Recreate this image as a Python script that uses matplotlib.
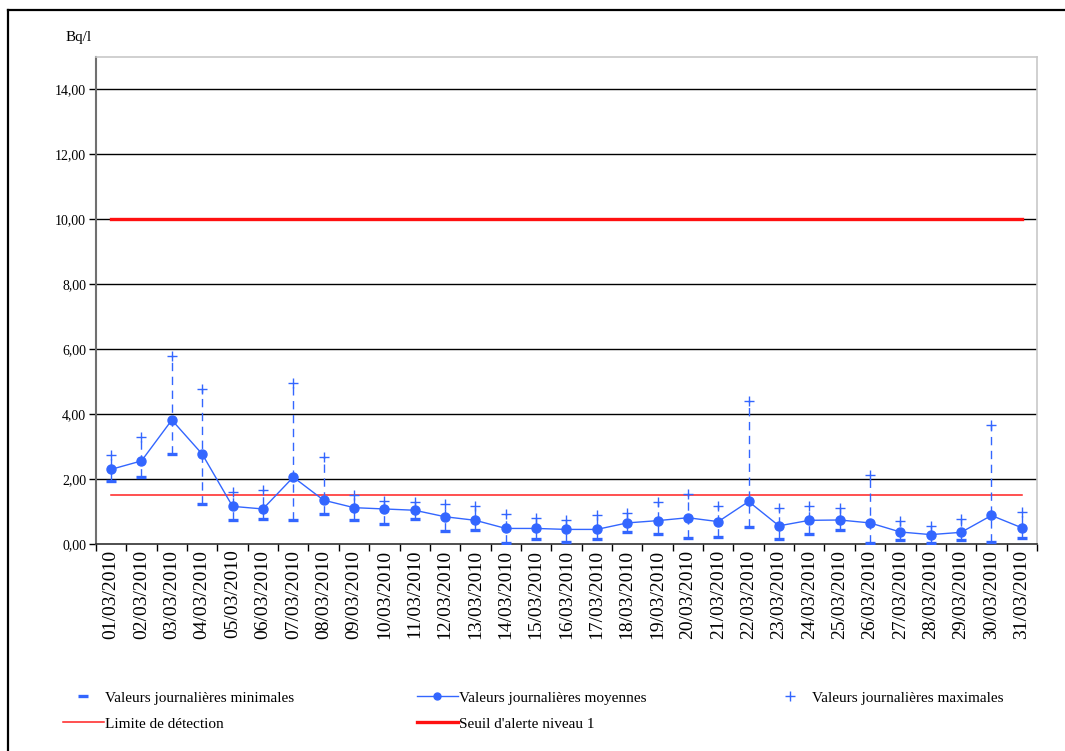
import matplotlib.pyplot as plt
from matplotlib.lines import Line2D
import numpy as np

plt.rcParams['font.family'] = ['Liberation Serif', 'DejaVu Serif']

# Données journalières (Bq/l) - mars 2010
jours = ['%02d/03/2010' % j for j in range(1, 32)]

val_min = [1.95, 2.06, 2.77, 1.24, 0.73, 0.77, 0.73, 0.92, 0.73, 0.62,
           0.76, 0.41, 0.42, 0.04, 0.14, 0.07, 0.14, 0.37, 0.30, 0.18,
           0.23, 0.51, 0.14, 0.30, 0.43, 0.02, 0.11, 0.03, 0.11, 0.05, 0.19]
val_moy = [2.30, 2.56, 3.82, 2.77, 1.16, 1.08, 2.06, 1.35, 1.12, 1.08,
           1.04, 0.84, 0.73, 0.48, 0.48, 0.45, 0.45, 0.65, 0.72, 0.81,
           0.69, 1.31, 0.56, 0.73, 0.74, 0.65, 0.37, 0.29, 0.36, 0.88, 0.50]
val_max = [2.74, 3.30, 5.78, 4.78, 1.61, 1.65, 4.97, 2.69, 1.52, 1.33,
           1.29, 1.24, 1.18, 0.92, 0.80, 0.75, 0.88, 0.95, 1.29, 1.54,
           1.17, 4.39, 1.11, 1.18, 1.10, 2.13, 0.72, 0.55, 0.76, 3.68, 0.98]

limite_detection = 1.5
seuil_alerte = 10.0

bleu = '#3366ff'
x = np.arange(len(jours))

fig = plt.figure(figsize=(10.65, 7.51), dpi=100)
ax = fig.add_axes([0.0901, 0.2756, 0.8836, 0.6485])

# grille horizontale
for y in range(2, 15, 2):
    ax.axhline(y, color='black', lw=1, zorder=1)

# seuils
ax.plot([x[0], x[-1]], [seuil_alerte] * 2, color='#ff1010', lw=2.4, zorder=2)
ax.plot([x[0], x[-1]], [limite_detection] * 2, color='#ff2020', lw=1.1, zorder=2)

# barres min-max
ax.vlines(x, val_min, val_max, colors=bleu, linestyles=(0, (6, 4)), lw=1, zorder=3)

ax.plot(x, val_min, ls='none', marker='_', ms=7, mew=2.4, color=bleu, zorder=4)
ax.plot(x, val_moy, color=bleu, lw=1, marker='o', ms=6.5, zorder=4)
ax.plot(x, val_max, ls='none', marker='+', ms=7, mew=1, color=bleu, zorder=4)

ax.set_xlim(-0.5, len(jours) - 0.5)
ax.set_ylim(0, 15)
ax.set_yticks(np.arange(0, 15, 2))
ax.yaxis.set_major_formatter(plt.FuncFormatter(lambda v, p: ('%.2f' % v).replace('.', ',')))
ax.tick_params(axis='y', length=5, width=1, pad=2, labelsize=10)

ax.set_xticks(x)
ax.set_xticklabels(jours, rotation=90, fontsize=14)
ax.set_xticks(np.arange(-0.5, len(jours), 1), minor=True)
ax.tick_params(axis='x', which='major', length=0, pad=4)
ax.tick_params(axis='x', which='minor', length=5, width=1)

ax.spines['left'].set_color('#707070')
ax.spines['left'].set_linewidth(1.5)
ax.spines['bottom'].set_color('#303030')
ax.spines['bottom'].set_linewidth(1.2)
for s in ['top', 'right']:
    ax.spines[s].set_color('#c8c8c8')
    ax.spines[s].set_linewidth(1.2)

fig.text(66 / 1065, 1 - 37 / 751, 'Bq/l', fontsize=11, va='center', ha='left')

# légende
h_min = Line2D([], [], ls='none', marker='_', ms=7, mew=2.4, color=bleu)
h_moy = Line2D([], [], color=bleu, lw=1, marker='o', ms=5)
h_max = Line2D([], [], ls='none', marker='+', ms=7, mew=1, color=bleu)
h_lim = Line2D([], [], color='#ff2020', lw=1.1)
h_seu = Line2D([], [], color='#ff1010', lw=2.4)
fig.legend([h_min, h_lim, h_moy, h_seu, h_max],
           ['Valeurs journalières minimales', 'Limite de détection',
            'Valeurs journalières moyennes', "Seuil d'alerte niveau 1",
            'Valeurs journalières maximales'],
           ncol=3, loc='upper left', bbox_to_anchor=(0.053, 0.088),
           frameon=False, fontsize=11, handlelength=2.7, handletextpad=0.1,
           columnspacing=8.0, labelspacing=0.8, borderaxespad=0)

# cadre extérieur (haut et gauche)
fig.add_artist(Line2D([8 / 1065, 1], [1 - 10 / 751] * 2, color='black', lw=1.6,
                      transform=fig.transFigure))
fig.add_artist(Line2D([8 / 1065] * 2, [0, 1 - 10 / 751], color='black', lw=1.6,
                      transform=fig.transFigure))

fig.savefig('out.png', dpi=100)
